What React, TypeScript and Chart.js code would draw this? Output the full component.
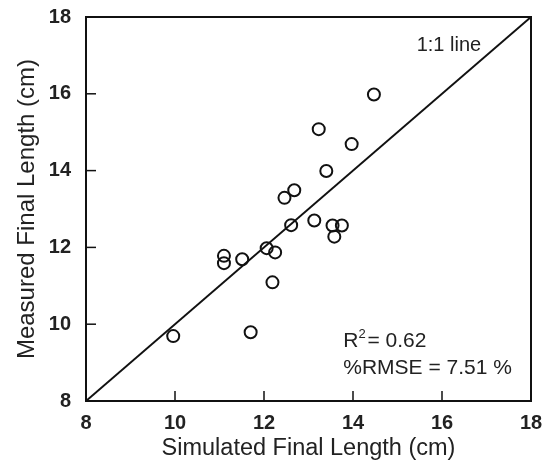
import React, { useEffect, useRef } from "react";
import { Chart, registerables } from "chart.js";

Chart.register(...registerables);

const simulated = [14.47, 13.23, 13.97, 13.4, 12.68, 12.46, 12.61, 13.13, 13.54, 13.75, 13.58, 12.06, 12.25, 11.1, 11.1, 11.51, 12.19, 11.7, 9.96];
const measured = [15.98, 15.08, 14.69, 13.99, 13.49, 13.29, 12.58, 12.7, 12.57, 12.57, 12.28, 11.98, 11.87, 11.78, 11.59, 11.69, 11.09, 9.79, 9.69];
const axisMin = 8;
const axisMax = 18;
const tickValues = [8, 10, 12, 14, 16, 18];
const oneToOne = [axisMin, axisMax];
const xTitle = "Simulated Final Length (cm)";
const yTitle = "Measured Final Length (cm)";
const lineLabel = "1:1 line";
const r2Value = "0.62";
const rmseValue = "7.51 %";

const FONT = "'Liberation Sans', Arial, Helvetica, sans-serif";

const framePlugin = {
  id: "frame",
  afterDraw(chart: any) {
    const { ctx, chartArea, scales } = chart;
    const { left, right, top, bottom } = chartArea;
    ctx.save();
    ctx.strokeStyle = "#111";
    ctx.lineWidth = 2;
    ctx.strokeRect(left, top, right - left, bottom - top);
    ctx.lineWidth = 1.5;
    const tl = 10;
    tickValues.forEach((v) => {
      const x = scales.x.getPixelForValue(v);
      ctx.beginPath();
      ctx.moveTo(x, bottom);
      ctx.lineTo(x, bottom - tl);
      ctx.stroke();
      const y = scales.y.getPixelForValue(v);
      ctx.beginPath();
      ctx.moveTo(left, y);
      ctx.lineTo(left + tl, y);
      ctx.stroke();
    });
    ctx.fillStyle = "#222";
    ctx.font = `20px ${FONT}`;
    ctx.textBaseline = "alphabetic";
    ctx.textAlign = "left";
    ctx.fillText(lineLabel, scales.x.getPixelForValue(15.43), scales.y.getPixelForValue(17.12));
    ctx.font = `21px ${FONT}`;
    const rx = scales.x.getPixelForValue(13.78);
    const ry = scales.y.getPixelForValue(9.41);
    ctx.fillText("R", rx, ry);
    const rw = ctx.measureText("R").width;
    ctx.font = `13px ${FONT}`;
    ctx.fillText("2", rx + rw, ry - 9);
    ctx.font = `21px ${FONT}`;
    ctx.fillText("= " + r2Value, rx + rw + 9, ry);
    ctx.fillText("%RMSE = " + rmseValue, rx, scales.y.getPixelForValue(8.71));
    ctx.restore();
  },
};

export default function App() {
  const ref = useRef<HTMLCanvasElement>(null);
  useEffect(() => {
    document.body.style.margin = "0";
    const chart = new Chart(ref.current!, {
      type: "scatter",
      data: {
        datasets: [
          {
            data: simulated.map((x, i) => ({ x, y: measured[i] })),
            pointStyle: "circle",
            pointRadius: 6,
            pointBorderWidth: 2,
            pointBorderColor: "#111",
            pointBackgroundColor: "rgba(255,255,255,0)",
            showLine: false,
          },
          {
            data: oneToOne.map((v) => ({ x: v, y: v })),
            showLine: true,
            borderColor: "#111",
            borderWidth: 2,
            pointRadius: 0,
          },
        ],
      },
      options: {
        animation: false,
        responsive: false,
        maintainAspectRatio: false,
        layout: { padding: { top: 17, right: 13, left: 0, bottom: 0 } },
        plugins: { legend: { display: false }, tooltip: { enabled: false } },
        scales: {
          x: {
            type: "linear",
            min: axisMin,
            max: axisMax,
            afterBuildTicks: (s: any) => { s.ticks = tickValues.map((v) => ({ value: v })); },
            afterFit: (s: any) => { s.height = 62; s.paddingLeft = 0; s.paddingRight = 0; },
            grid: { display: false, drawTicks: false },
            border: { display: false },
            ticks: { color: "#222", padding: 10, font: { family: FONT, size: 20, weight: "bold" } },
            title: { display: true, text: xTitle, color: "#222", padding: 0, font: { family: FONT, size: 23.5 } },
          },
          y: {
            type: "linear",
            min: axisMin,
            max: axisMax,
            afterBuildTicks: (s: any) => { s.ticks = tickValues.map((v) => ({ value: v })); },
            afterFit: (s: any) => { s.width = 86; s.paddingTop = 0; s.paddingBottom = 0; },
            grid: { display: false, drawTicks: false },
            border: { display: false },
            ticks: { color: "#222", padding: 15, font: { family: FONT, size: 20, weight: "bold" } },
            title: { display: true, text: yTitle, color: "#222", padding: { top: 13, bottom: 0 }, font: { family: FONT, size: 24 } },
          },
        },
      },
      plugins: [framePlugin],
    } as any);
    return () => chart.destroy();
  }, []);
  return (
    <div style={{ width: 544, height: 463, background: "#fff" }}>
      <canvas ref={ref} width={544} height={463} />
    </div>
  );
}
